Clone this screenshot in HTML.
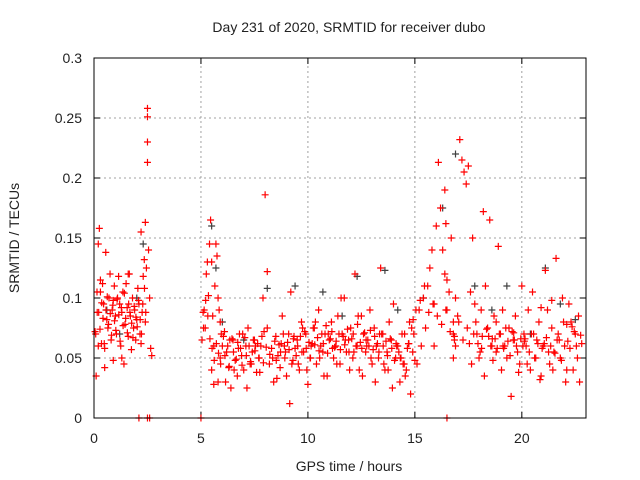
<!DOCTYPE html>
<html><head><meta charset="utf-8"><style>
body{margin:0;background:#fff}
svg{display:block}
text{font-family:"Liberation Sans",sans-serif;font-size:14px;fill:#222}
</style></head><body>
<svg id="chart" width="640" height="480">
<text x="349" y="32" text-anchor="middle">Day 231 of 2020, SRMTID for receiver dubo</text>
<text x="349" y="471" text-anchor="middle">GPS time / hours</text>
<text transform="translate(19,238) rotate(-90)" text-anchor="middle">SRMTID / TECUs</text>
<g id="grid"></g><g id="ticks"></g><g id="marks"></g>
<rect x="94" y="58" width="492" height="360" fill="none" stroke="#000" stroke-width="1"/>
</svg>
<script>
const xTicks=[0,5,10,15,20];
const yTicks=[0,0.05,0.1,0.15,0.2,0.25,0.3];
const yTickLabels=["0","0.05","0.1","0.15","0.2","0.25","0.3"];
const tRed=[0.05,0.1,0.15,0.2,0.25,0.3,0.35,0.4,0.45,0.5,0.55,0.6,0.65,0.7,0.75,0.8,0.85,0.9,0.95,1.0,1.05,1.1,1.15,1.2,1.25,1.3,1.35,1.4,1.45,1.5,1.55,1.6,1.65,1.7,1.75,1.8,1.85,1.9,1.95,2.0,2.05,2.1,2.15,2.2,2.25,2.3,2.35,2.4,2.45,2.5,2.5,2.5,2.5,2.55,2.6,2.65,2.7,0.3,0.5,0.2,0.9,1.3,1.6,2.2,2.4,
2.1,2.5,2.6,5.0,
5.05,5.1,5.15,5.2,5.25,5.3,5.35,5.4,5.45,5.5,5.55,5.6,5.65,5.7,5.75,5.8,5.85,5.9,5.95,6.0,5.5,5.6,5.8,5.9,6.1,6.2,6.3,6.4,6.5,6.6,6.7,6.8,6.9,7.0,7.1,7.2,7.3,7.4,7.5,7.6,7.7,7.8,7.9,8.0,8.1,8.1,8.2,8.3,8.4,8.5,8.6,8.7,8.8,8.9,9.0,9.1,9.2,9.3,9.4,9.5,9.6,9.7,9.8,9.9,10.0,10.1,10.2,10.3,10.4,10.5,10.6,10.7,10.8,10.9,11.0,11.1,11.2,11.3,11.4,11.5,11.6,11.7,11.8,11.9,12.0,12.1,12.2,12.3,12.4,12.5,12.6,12.7,12.8,12.9,13.0,13.1,13.2,13.3,13.4,13.5,13.6,13.7,13.8,13.9,14.0,14.1,14.2,14.3,14.4,14.5,14.6,14.7,14.8,14.9,15.0,
6.15,6.35,6.55,6.75,6.95,7.15,7.35,7.55,7.75,7.95,8.35,8.55,8.75,8.95,9.15,9.35,9.55,9.75,9.95,10.15,10.35,10.55,10.75,10.95,11.15,11.35,11.55,11.75,11.95,12.15,12.35,12.55,12.75,12.95,13.15,13.35,13.55,13.75,13.95,14.15,14.35,14.55,14.75,14.95,
15.1,15.2,15.3,15.4,15.5,15.6,15.7,15.8,15.9,16.0,16.1,16.2,16.3,16.4,16.5,16.6,16.7,16.8,16.9,17.0,17.1,17.2,17.3,17.4,17.5,16.4,16.45,16.5,16.5,16.8,16.85,16.9,16.8,15.9,
17.6,17.7,17.8,17.9,18.0,18.1,18.2,18.3,18.4,18.5,18.6,18.7,18.8,18.9,18.8,19.0,19.1,19.2,19.3,19.4,19.5,19.6,19.7,19.8,19.9,20.0,20.1,20.2,20.3,20.4,20.5,20.6,20.7,20.8,20.9,21.0,21.1,21.2,21.3,21.4,21.5,21.6,21.7,21.8,21.9,22.0,22.1,22.2,22.3,22.4,22.5,22.6,22.7,22.8,
17.65,17.85,18.05,18.25,18.45,18.65,18.85,19.05,19.25,19.45,19.65,19.85,20.05,20.25,20.45,20.65,20.85,21.05,21.25,21.45,21.65,21.85,22.05,22.25,22.45,22.65,19.95,21.4,22.1,20.9,
0.08,0.14,0.22,0.28,0.36,0.42,0.48,0.56,0.62,0.68,0.76,0.82,0.88,0.96,1.02,1.08,1.16,1.22,1.28,1.36,1.42,1.48,1.56,1.62,1.68,1.76,1.82,1.88,1.96,2.02,2.08,2.16,2.22,2.28,2.36,2.42,
5.12,5.22,5.32,5.42,5.52,5.62,5.72,5.82,5.92,6.05,6.12,6.25,6.32,6.45,6.52,6.65,6.72,6.85,6.92,7.05,7.12,7.25,7.32,7.45,7.52,7.65,7.72,7.85,7.92,8.05,8.22,8.45,8.52,8.65,8.72,8.85,8.92,9.05,9.12,9.25,9.32,9.45,9.52,9.65,9.72,9.85,9.92,10.05,10.12,10.25,10.32,10.45,10.52,10.65,10.72,10.85,10.92,11.05,11.12,11.25,11.32,11.45,11.52,11.65,11.72,11.85,11.92,12.05,12.12,12.25,12.32,12.45,12.52,12.65,12.72,12.85,12.92,13.05,13.12,13.25,13.32,13.45,13.52,13.65,13.72,13.85,13.92,14.05,14.12,14.25,14.32,14.45,14.52,14.65,14.72,14.85,14.92,
15.05,15.25,15.45,15.65,15.85,16.05,16.25,16.45,16.65,16.85,17.05,17.25,17.45,17.75,17.95,18.15,18.35,18.55,18.75,18.95,19.15,19.35,19.55,19.75,20.15,20.35,20.55,20.75,20.95,21.15,21.35,21.55,21.75,21.95,22.15,22.35,22.55,22.75,17.55,18.12,18.62,19.12,19.62,20.12,20.62,21.12,21.62,22.12,22.62];
const vRed=[0.072,0.035,0.088,0.145,0.158,0.105,0.062,0.112,0.095,0.058,0.138,0.082,0.075,0.1,0.12,0.065,0.09,0.048,0.11,0.085,0.07,0.1,0.118,0.095,0.06,0.088,0.105,0.045,0.078,0.112,0.092,0.068,0.12,0.085,0.057,0.1,0.075,0.09,0.065,0.082,0.108,0.095,0.07,0.155,0.088,0.118,0.132,0.163,0.125,0.258,0.251,0.23,0.213,0.14,0.1,0.058,0.052,0.115,0.042,0.06,0.098,0.05,0.12,0.062,0.08,
0,0,0,0,
0.065,0.088,0.09,0.075,0.12,0.13,0.102,0.145,0.165,0.13,0.085,0.06,0.11,0.145,0.135,0.1,0.09,0.08,0.07,0.06,0.04,0.028,0.03,0.05,0.072,0.055,0.042,0.025,0.065,0.048,0.035,0.07,0.052,0.04,0.06,0.075,0.045,0.055,0.065,0.038,0.05,0.06,0.1,0.186,0.122,0.075,0.045,0.058,0.03,0.068,0.052,0.042,0.085,0.06,0.035,0.07,0.105,0.048,0.058,0.065,0.04,0.08,0.055,0.07,0.028,0.05,0.062,0.075,0.045,0.09,0.06,0.055,0.07,0.035,0.065,0.08,0.05,0.06,0.085,0.045,0.07,0.1,0.055,0.065,0.075,0.05,0.12,0.06,0.04,0.085,0.07,0.055,0.065,0.09,0.045,0.075,0.06,0.05,0.125,0.07,0.04,0.055,0.08,0.065,0.095,0.05,0.06,0.03,0.07,0.045,
0.04,0.062,0.02,0.055,0.048,0.03,0.065,0.04,0.058,0.07,0.025,0.045,0.06,0.038,0.072,0.05,0.033,0.062,0.055,0.012,0.068,0.045,0.075,0.04,0.06,0.08,0.05,0.035,0.07,0.058,0.045,0.1,0.065,0.04,0.055,0.085,0.035,0.06,0.05,0.03,0.07,0.045,0.04,0.025,
0.06,0.05,0.035,0.08,0.07,0.045,0.09,0.06,0.1,0.075,0.11,0.125,0.14,0.095,0.16,0.213,0.175,0.14,0.12,0.09,0.105,0.15,0.07,0.06,0.085,0.232,0.215,0.205,0.195,0.21,0.19,0.162,0.115,0,
0.05,0.065,0.1,0.08,0.06,0.105,0.15,0.095,0.07,0.05,0.09,0.172,0.11,0.075,0.165,0.06,0.085,0.08,0.143,0.055,0.07,0.09,0.06,0.05,0.075,0.018,0.065,0.085,0.055,0.045,0.11,0.07,0.06,0.09,0.04,0.105,0.05,0.065,0.08,0.035,0.06,0.123,0.09,0.045,0.075,0.055,0.133,0.07,0.05,0.1,0.06,0.04,0.095,0.08,
0.04,0.07,0.05,0.03,0.062,0.045,0.08,0.055,0.035,0.068,0.048,0.058,0.04,0.075,0.052,0.065,0.038,0.06,0.045,0.07,0.05,0.032,0.062,0.055,0.04,0.065,0.048,0.03,0.058,0.072,
0.085,0.066,0.098,0.078,0.092,0.07,0.105,0.088,0.074,0.096,0.083,0.062,0.09,0.101,0.078,0.087,0.069,0.094,0.081,0.073,0.099,0.086,0.064,0.092,0.077,0.104,0.083,0.071,0.095,0.088,0.079,0.067,0.093,0.084,0.076,0.098,
0.082,0.07,0.095,0.108,0.088,0.075,0.098,0.085,0.066,0.058,0.048,0.062,0.054,0.045,0.068,0.052,0.06,0.043,0.066,0.055,0.049,0.063,0.058,0.044,0.067,0.052,0.06,0.047,0.065,0.056,0.062,0.05,0.068,0.046,0.059,0.053,0.064,0.048,0.061,0.055,0.07,0.05,0.063,0.057,0.045,0.066,0.052,0.06,0.068,0.055,0.072,0.058,0.063,0.05,0.075,0.061,0.067,0.056,0.07,0.062,0.077,0.054,0.066,0.072,0.059,0.064,0.07,0.057,0.068,0.061,0.074,0.055,0.066,0.07,0.06,0.078,0.063,0.058,0.071,0.065,0.06,0.073,0.057,0.068,0.062,0.055,0.07,0.06,0.064,0.052,0.066,0.058,0.048,0.062,0.055,0.05,0.045,
0.07,0.058,0.062,0.075,0.082,0.09,0.098,0.11,0.088,0.095,0.085,0.078,0.09,0.072,0.068,0.08,0.065,0.075,0.07,0.062,0.068,0.074,0.06,0.066,0.07,0.058,0.064,0.072,0.06,0.066,0.055,0.07,0.062,0.058,0.067,0.06,0.054,0.065,0.08,0.064,0.076,0.06,0.069,0.062,0.058,0.066,0.06,0.071,0.064];
const tGray=[0.6,1.2,2.0,2.3,5.5,5.7,6.0,7.0,8.1,9.4,10.7,11.6,12.3,13.6,14.2,15.4,16.3,16.9,17.8,18.6,19.3,20.4,21.1,21.8,22.5];
const vGray=[0.09,0.07,0.1,0.145,0.16,0.125,0.08,0.065,0.108,0.11,0.105,0.085,0.118,0.123,0.09,0.1,0.175,0.22,0.11,0.09,0.11,0.07,0.125,0.095,0.082];
const NS="http://www.w3.org/2000/svg";
const X0=94,X1=586,Y0=418,Y1=58;
function xs(t){return X0+(t/23)*(X1-X0);}
function ys(v){return Y0-(v/0.3)*(Y0-Y1);}
function el(n,a,p){const e=document.createElementNS(NS,n);for(const k in a)e.setAttribute(k,a[k]);p.appendChild(e);return e;}
const grid=document.getElementById('grid'),ticks=document.getElementById('ticks'),marks=document.getElementById('marks');
xTicks.forEach(t=>{const x=xs(t);
 if(t>0){const g=el('line',{x1:x,y1:Y0,x2:x,y2:Y1,stroke:'#a0a0a0','stroke-dasharray':'2,3'},grid);
 
 }
 el('line',{x1:x,y1:Y0,x2:x,y2:Y0-6,stroke:'#000'},ticks);
 el('line',{x1:x,y1:Y1,x2:x,y2:Y1+6,stroke:'#000'},ticks);
 const tx=el('text',{x:x,y:443,'text-anchor':'middle'},ticks);tx.textContent=t;
 
 });
yTicks.forEach((v,i)=>{const y=ys(v);
 if(i>0&&i<yTicks.length-1){const g=el('line',{x1:X0,y1:y,x2:X1,y2:y,stroke:'#a0a0a0','stroke-dasharray':'2,3'},grid);
 
 }
 el('line',{x1:X0,y1:y,x2:X0+6,y2:y,stroke:'#000'},ticks);
 el('line',{x1:X1,y1:y,x2:X1-6,y2:y,stroke:'#000'},ticks);
 const tx=el('text',{x:82,y:y+5,'text-anchor':'end'},ticks);tx.textContent=yTickLabels[i];
 
 });
function plus(t,v,c,name){const x=xs(t),y=ys(v);
 const p=el('path',{d:`M${x-3.5},${y}h7M${x},${y-3.5}v7`,stroke:c,'stroke-width':1.2,fill:'none'},marks);
 
 }
tGray.forEach((t,i)=>plus(t,vGray[i],'#404040','gray-point'));
tRed.forEach((t,i)=>plus(t,vRed[i],'#ff0000','red-point'));
</script>
</body></html>
